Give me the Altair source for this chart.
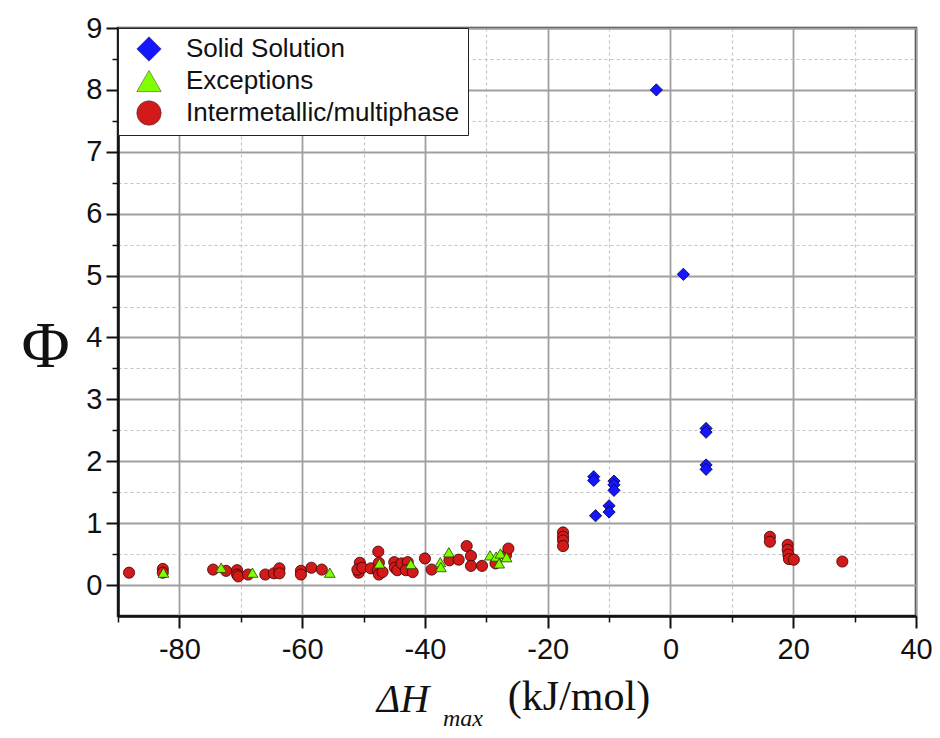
import altair as alt
import pandas as pd

# ---- data ----
series_names = ["Solid Solution", "Exceptions", "Intermetallic/multiphase"]
series_colors = ["#1515ff", "#80ff00", "#d21a1a"]
series_shapes = ["diamond", "triangle-up", "circle"]

ss_x = [-2.3, 2.1, 5.8, 5.8, 5.8, 5.8, -12.5, -12.5, -12.2, -9.2, -9.2, -9.2, -10.0, -10.0]
ss_y = [8.0, 5.02, 2.53, 2.47, 1.94, 1.87, 1.75, 1.69, 1.12, 1.68, 1.62, 1.53, 1.28, 1.18]

ex_x = [-82.6, -73.2, -68.1, -55.5, -47.4, -42.3, -37.5, -37.4, -36.1, -29.4, -28.4, -27.9, -27.7, -26.7]
ex_y = [0.2, 0.28, 0.2, 0.2, 0.35, 0.34, 0.37, 0.29, 0.53, 0.48, 0.46, 0.35, 0.51, 0.45]

im_x = [-88.2, -82.7, -82.7, -74.5, -72.4, -70.6, -70.6, -70.4, -68.8, -66.0, -64.6, -63.7, -63.7,
        -60.2, -60.2, -58.5, -56.8,
        -50.8, -50.6, -51.0, -50.2, -48.8, -47.6, -47.5, -47.7, -47.5, -46.9, -45.0, -44.9, -44.5,
        -43.8, -42.8, -43.1, -42.0, -40.0, -38.9, -36.0, -34.5, -33.2, -32.5, -32.5, -30.7, -28.5,
        -26.8, -26.4,
        -17.5, -17.5, -17.5, -17.5, 16.2, 16.2, 19.1, 19.1, 19.2, 19.3, 20.1, 28.0]
im_y = [0.2, 0.26, 0.2, 0.25, 0.23, 0.24, 0.17, 0.14, 0.17, 0.17, 0.19, 0.27, 0.19,
        0.23, 0.17, 0.28, 0.25,
        0.2, 0.36, 0.25, 0.28, 0.27, 0.54, 0.36, 0.24, 0.17, 0.21, 0.37, 0.28, 0.24,
        0.35, 0.37, 0.24, 0.21, 0.43, 0.25, 0.4, 0.41, 0.63, 0.47, 0.31, 0.31, 0.35,
        0.48, 0.59,
        0.85, 0.78, 0.72, 0.63, 0.78, 0.70, 0.65, 0.57, 0.49, 0.42, 0.41, 0.38]

x_major = [-80, -60, -40, -20, 0, 20, 40]
x_minor = [-90, -70, -50, -30, -10, 10, 30]
y_major = [0, 1, 2, 3, 4, 5, 6, 7, 8, 9]
y_minor = [0.5, 1.5, 2.5, 3.5, 4.5, 5.5, 6.5, 7.5, 8.5]

x_title_parts = ["ΔH", "(kJ/mol)", "max"]

# ---- chart ----
ss = pd.DataFrame({"x": ss_x, "y": ss_y, "s": series_names[0]})
ex = pd.DataFrame({"x": ex_x, "y": ex_y, "s": series_names[1]})
im = pd.DataFrame({"x": im_x, "y": im_y, "s": series_names[2]})

xs = alt.Scale(domain=[-90, 40], nice=False, zero=False)
ys = alt.Scale(domain=[-0.5, 9], nice=False, zero=False)

color = alt.Color("s:N", scale=alt.Scale(domain=series_names, range=series_colors),
                  legend=alt.Legend(title=None, orient="none", legendX=0, legendY=0,
                                    fillColor="white", strokeColor="#222", padding=8,
                                    symbolSize=600, symbolOffset=10, labelOffset=24,
                                    rowPadding=5, labelFont="Liberation Sans", labelFontSize=26,
                                    labelLimit=0, labelColor="#111", symbolStrokeWidth=0.5,
                                    symbolStrokeColor="#333"))
shape = alt.Shape("s:N", scale=alt.Scale(domain=series_names, range=series_shapes), legend=None)

LBL = "datum.value < 0 ? '-' + (-datum.value) : '' + datum.value"

x_minor_axis = alt.Axis(values=x_minor, grid=True, gridDash=[3, 3], gridColor="#c4c4c4",
                        gridWidth=1.2, labels=False, domain=False, ticks=True, tickSize=6,
                        tickWidth=1.5, tickColor="#111", title=None, orient="bottom")
y_minor_axis = alt.Axis(values=y_minor, grid=True, gridDash=[3, 3], gridColor="#c4c4c4",
                        gridWidth=1.2, labels=False, domain=False, ticks=True, tickSize=6,
                        tickWidth=1.5, tickColor="#111", title=None, orient="left")

x_major_axis = alt.Axis(values=x_major, grid=True, gridColor="#a0a0a0", gridWidth=1.8,
                        domain=True, domainColor="#111", domainWidth=2.5, tickSize=12,
                        tickWidth=2, tickColor="#111", labelFont="Liberation Sans",
                        labelFontSize=29, labelColor="#111", labelPadding=7, labelExpr=LBL,
                        title=None, orient="bottom", labelFlush=False, labelOverlap=False)
y_major_axis = alt.Axis(values=y_major, grid=True, gridColor="#a0a0a0", gridWidth=1.8,
                        domain=True, domainColor="#111", domainWidth=2.5, tickSize=12,
                        tickWidth=2, tickColor="#111", labelFont="Liberation Sans",
                        labelFontSize=29, labelColor="#111", labelPadding=4,
                        title="Φ", titleFont="Liberation Serif", titleFontSize=66,
                        titleFontWeight="normal", titleAngle=0, titleX=-73, titleY=318,
                        titleAlign="center", titleBaseline="middle", titleColor="#111",
                        orient="left", labelFlush=False, labelOverlap=False)

im_layer = alt.Chart(im).mark_point(filled=True, size=125, opacity=1, stroke="#3a0000",
                                    strokeWidth=0.8).encode(
    x=alt.X("x:Q", scale=xs, axis=x_minor_axis),
    y=alt.Y("y:Q", scale=ys, axis=y_minor_axis),
    color=color, shape=shape)

ex_layer = alt.Chart(ex).mark_point(filled=True, size=115, opacity=1, stroke="#224400",
                                    strokeWidth=0.8).encode(
    x=alt.X("x:Q", scale=xs, axis=None),
    y=alt.Y("y:Q", scale=ys, axis=None),
    color=color, shape=shape)

ss_layer = alt.Chart(ss).mark_point(filled=True, size=150, opacity=1, stroke="#000033",
                                    strokeWidth=0.8).encode(
    x=alt.X("x:Q", scale=xs, axis=x_major_axis),
    y=alt.Y("y:Q", scale=ys, axis=y_major_axis),
    color=color, shape=shape)

t_dh = alt.Chart(pd.DataFrame({"t": [x_title_parts[0]]})).mark_text(
    font="Liberation Serif", fontStyle="italic", fontSize=40, align="center",
    baseline="alphabetic", color="#111").encode(text="t:N", x=alt.value(285), y=alt.value(684))
t_unit = alt.Chart(pd.DataFrame({"t": [x_title_parts[1]]})).mark_text(
    font="Liberation Serif", fontSize=42, align="center", baseline="alphabetic",
    color="#111").encode(text="t:N", x=alt.value(461), y=alt.value(682))
t_max = alt.Chart(pd.DataFrame({"t": [x_title_parts[2]]})).mark_text(
    font="Liberation Serif", fontStyle="italic", fontSize=24, align="center",
    baseline="alphabetic", color="#111").encode(text="t:N", x=alt.value(345), y=alt.value(698))

chart = alt.layer(im_layer, ex_layer, ss_layer, t_dh, t_unit, t_max).resolve_axis(
    x="independent", y="independent"
).properties(
    width=798, height=588,
    autosize=alt.AutoSizeParams(type="none"),
    padding={"left": 110, "top": 20, "right": 16, "bottom": 114},
    background="white",
).configure_view(stroke="#333", strokeWidth=2.5)

chart.save("out.html", embed_options={"renderer": "svg", "actions": False})
